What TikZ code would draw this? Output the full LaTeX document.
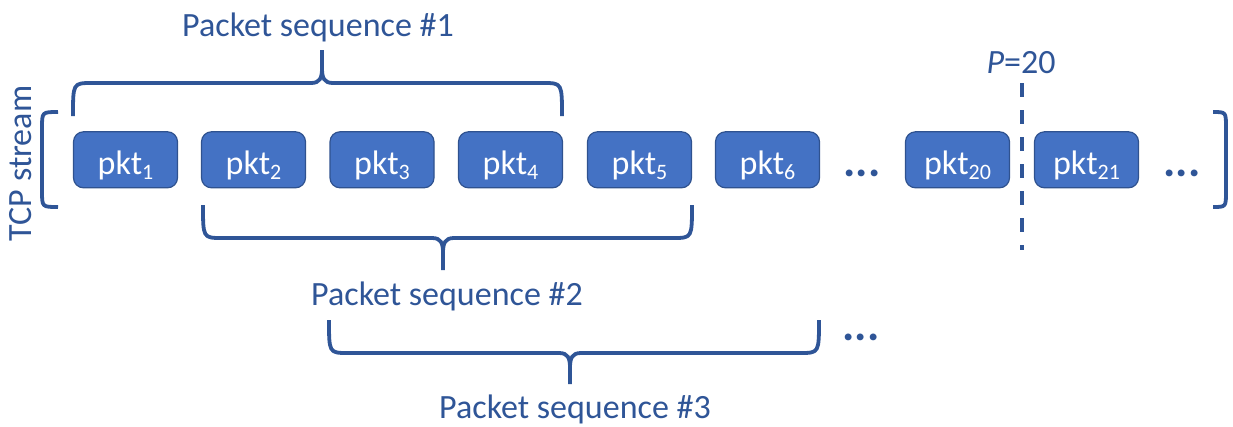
\documentclass[tikz,border=0pt]{standalone}
\usepackage{fontspec}
\setmainfont{Carlito}
\definecolor{boxfill}{HTML}{4472C4}
\definecolor{boxline}{HTML}{2F528F}
\definecolor{ink}{HTML}{2F5597}
\newcommand{\pk}[1]{pkt\raisebox{-5pt}{\fontsize{22}{22}\selectfont #1}}
\tikzset{
  pktbox/.style={draw=boxline, fill=boxfill, line width=1.2pt, rounded corners=10pt,
    minimum width=104pt, minimum height=56pt, inner sep=0pt},
  pktlbl/.style={text=white, font=\fontsize{34}{40}\selectfont, inner sep=0pt, yshift=-6pt},
  lbl/.style={text=ink, font=\fontsize{34}{40}\selectfont, inner sep=0pt, anchor=base},
  dots/.style={text=ink, font=\fontsize{46}{50}\selectfont\bfseries, inner sep=0pt, anchor=base},
  brace/.style={draw=ink, line width=3.8pt, line cap=butt, line join=round},
  cut/.style={draw=ink, line width=4pt, dash pattern=on 14pt off 13pt}
}
\begin{document}
\begin{tikzpicture}[x=1pt,y=-1pt]
\useasboundingbox (0,0) rectangle (1233,426);
% packets
\foreach \n/\x in {1/125.5,2/253.5,3/382,4/510.5,5/639.5,6/767.5,20/957.5,21/1086.5}{
  \node[pktbox, label={[pktlbl]center:\pk{\n}}] (p\n) at (\x,159.8) {};
}
\node[dots] (d1) at (862,176) {...};
\node[dots] (d2) at (1182,176) {...};
\node[dots] (d3) at (861,340) {...};
% stream brackets
\draw[brace] (58,112) .. controls (42,112) .. (42,128) -- (42,191) .. controls (42,207) .. (58,207);
\draw[brace] (1213,112) .. controls (1226,112) .. (1226,128) -- (1226,191) .. controls (1226,207) .. (1213,207);
\node[lbl, rotate=90] (tcp) at (31,163.5) {TCP stream};
% brace 1 (tip up)
\draw[brace] (73,116) .. controls (73,83) .. (92,83) -- (311,83)
   .. controls (320,83) and (322,78) .. (322,68) -- (322,50);
\draw[brace] (322,68) .. controls (322,78) and (324,83) .. (333,83) -- (543,83)
   .. controls (562,83) .. (562,116);
\node[lbl] (s1) at (318,36) {Packet sequence \#1};
% brace 2 (tip down)
\draw[brace] (203,205) .. controls (203,238) .. (222,238) -- (432,238)
   .. controls (441,238) and (443,243) .. (443,253) -- (443,270);
\draw[brace] (443,253) .. controls (443,243) and (445,238) .. (454,238) -- (673,238)
   .. controls (692,238) .. (692,205);
\node[lbl] (s2) at (447,305) {Packet sequence \#2};
% brace 3 (tip down)
\draw[brace] (329,320) .. controls (329,353) .. (348,353) -- (559,353)
   .. controls (568,353) and (570,358) .. (570,368) -- (570,384);
\draw[brace] (570,368) .. controls (570,358) and (572,353) .. (581,353) -- (800,353)
   .. controls (819,353) .. (819,320);
\node[lbl] (s3) at (575,418) {Packet sequence \#3};
% cut line
\coordinate (ct) at (1022,83);
\coordinate (cb) at (1022,250);
\draw[cut] (ct) -- (cb);
\node[lbl] (pl) at (1021,73) {\textit{P}=20};
\end{tikzpicture}
\end{document}
